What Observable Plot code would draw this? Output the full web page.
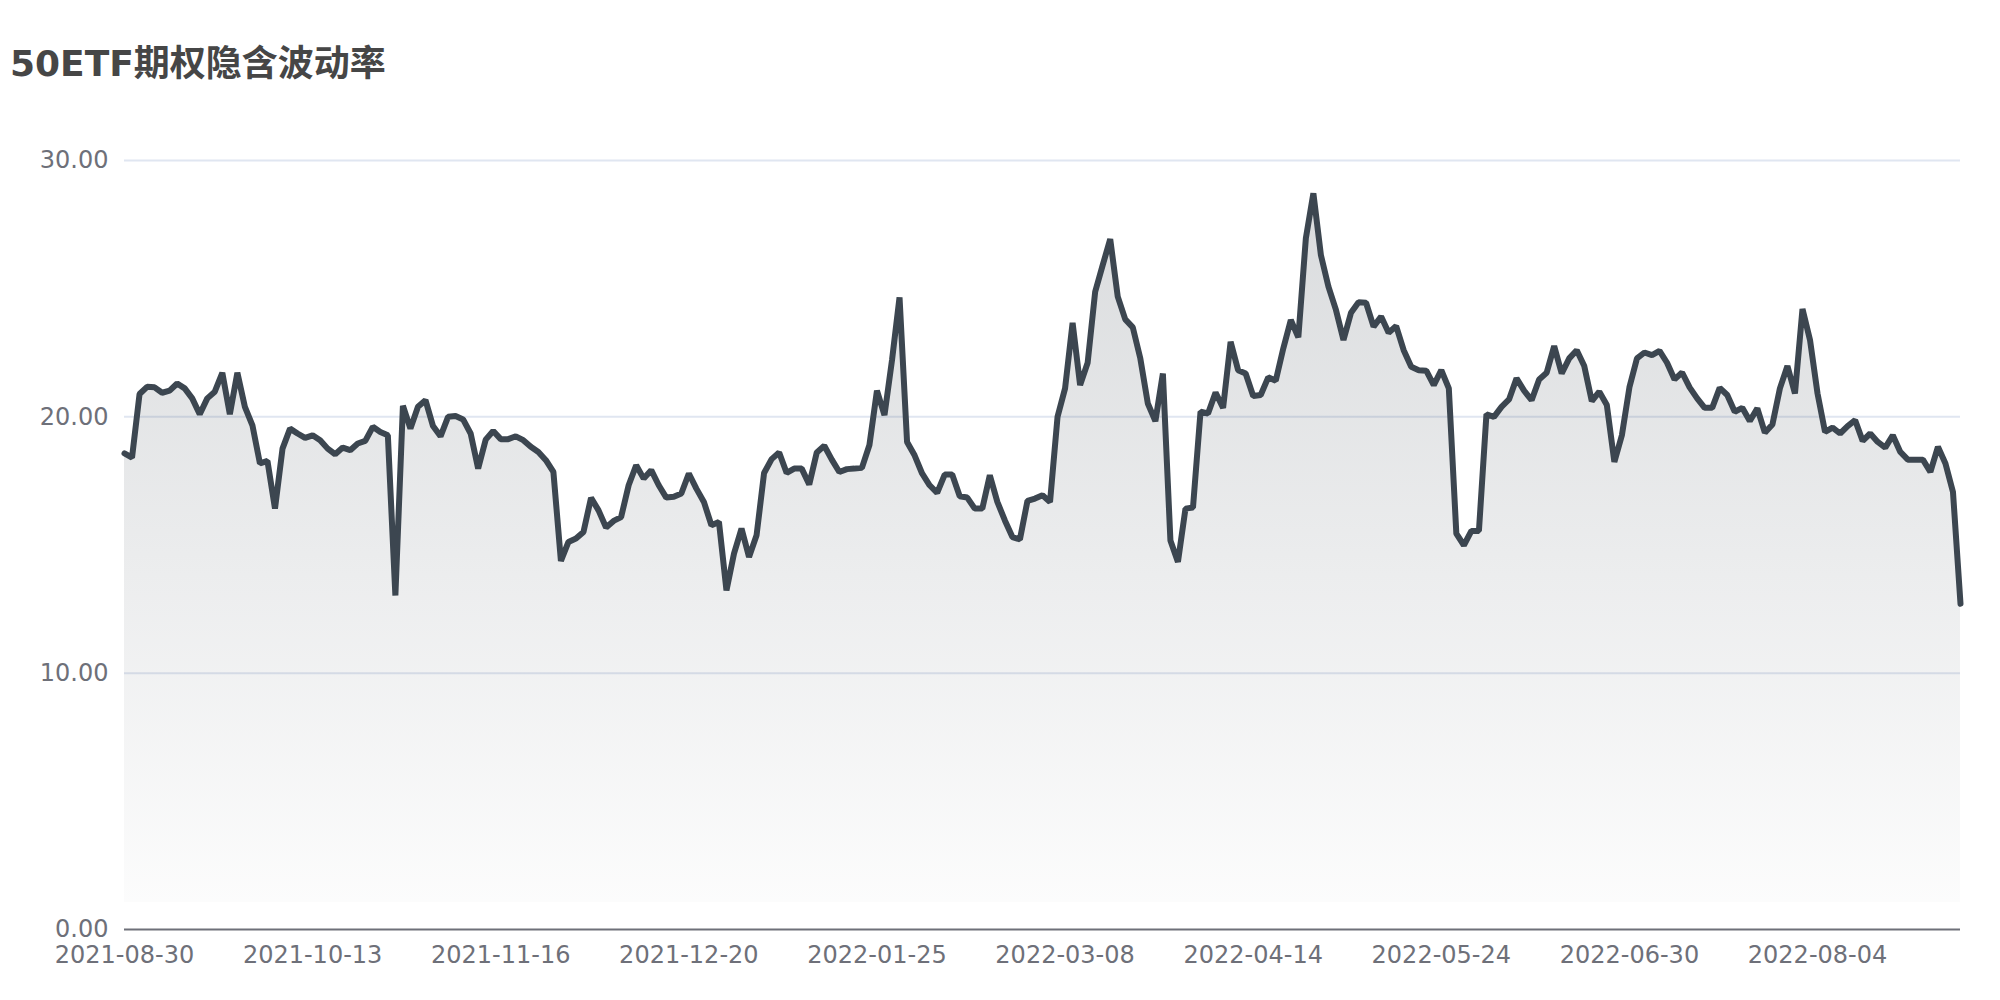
<!DOCTYPE html>
<html>
<head>
<meta charset="utf-8">
<script src="https://cdn.jsdelivr.net/npm/d3@7"></script>
<script src="https://cdn.jsdelivr.net/npm/@observablehq/plot@0.6"></script>
<style>
  html, body { margin: 0; padding: 0; background: #ffffff; }
  #title {
    height: 100px; box-sizing: border-box; padding: 42px 0 0 10px;
    font-family: "DejaVu Sans", "Noto Sans CJK SC", sans-serif;
    font-weight: bold; font-size: 36px; line-height: 44px; color: #464646;
    white-space: nowrap;
  }
</style>
</head>
<body>
<div id="title">50ETF期权隐含波动率</div>
<div id="chart"></div>
<script>
// Title
const chartTitle = "50ETF期权隐含波动率";

// X tick labels (every 25th trading day)
const xTickLabels = ["2021-08-30","2021-10-13","2021-11-16","2021-12-20","2022-01-25",
                     "2022-03-08","2022-04-14","2022-05-24","2022-06-30","2022-08-04"];
const xTickEvery = 25;

// Y ticks
const yTicks = [0, 10, 20, 30];

// Implied volatility series (one value per trading day, 2021-08-30 .. 2022-08-31)
const ivPart1 = [
  18.57, 18.41, 20.89, 21.17, 21.15, 20.94, 21.02, 21.30, 21.11, 20.72,
  20.10, 20.72, 20.98, 21.72, 20.10, 21.72, 20.39, 19.67, 18.18, 18.28,
  16.42, 18.76, 19.54, 19.35, 19.18, 19.28, 19.09, 18.76, 18.54, 18.80,
  18.70, 18.96, 19.06, 19.61, 19.41, 19.28, 13.03, 20.43, 19.54, 20.39,
  20.65, 19.64, 19.24, 20.00, 20.03, 19.90, 19.35, 17.98, 19.11, 19.45
];
const ivPart2 = [
  19.13, 19.13, 19.24, 19.09, 18.83, 18.63, 18.31, 17.85, 14.38, 15.12,
  15.25, 15.51, 16.84, 16.35, 15.68, 15.94, 16.09, 17.33, 18.11, 17.59,
  17.92, 17.33, 16.85, 16.88, 17.01, 17.79, 17.20, 16.68, 15.77, 15.90,
  13.23, 14.66, 15.64, 14.53, 15.38, 17.81, 18.35, 18.61, 17.81, 17.98,
  17.98, 17.36, 18.61, 18.87, 18.33, 17.85, 17.96, 17.98, 18.01, 18.90
];
const ivPart3 = [
  21.02, 20.07, 22.21, 24.66, 19.02, 18.50, 17.79, 17.33, 17.03, 17.75,
  17.75, 16.90, 16.85, 16.42, 16.42, 17.72, 16.68, 15.96, 15.31, 15.22,
  16.72, 16.81, 16.94, 16.68, 20.00, 21.11, 23.67, 21.24, 22.11, 24.88,
  25.92, 26.93, 24.69, 23.80, 23.49, 22.28, 20.52, 19.83, 21.69, 15.18,
  14.34, 16.42, 16.46, 20.20, 20.13, 20.95, 20.35, 22.93, 21.82
];
const ivPart4 = [
  21.69, 20.81, 20.85, 21.54, 21.41, 22.67, 23.78, 23.10, 26.97, 28.72,
  26.31, 25.08, 24.17, 23.00, 24.06, 24.47, 24.45, 23.52, 23.91, 23.28,
  23.54, 22.60, 21.95, 21.82, 21.80, 21.24, 21.82, 21.11, 15.44, 14.99,
  15.55, 15.55, 20.10, 20.00, 20.39, 20.68, 21.50, 21.02, 20.65, 21.46,
  21.72, 22.76, 21.69, 22.28, 22.60, 21.98, 20.61, 20.98, 20.46
];
const ivPart5 = [
  18.24, 19.28, 21.15, 22.28, 22.51, 22.41, 22.57, 22.11, 21.46, 21.73,
  21.15, 20.72, 20.35, 20.35, 21.13, 20.85, 20.20, 20.35, 19.84, 20.33,
  19.38, 19.70, 21.11, 21.98, 20.91, 24.21, 23.00, 20.91, 19.41, 19.58,
  19.35, 19.64, 19.87, 19.06, 19.35, 19.02, 18.80, 19.28, 18.63, 18.33,
  18.33, 18.33, 17.85, 18.83, 18.18, 17.07, 12.71
];

// Lower edge of the shaded area (value units)
const areaBase = 1.05;

const ivValues = [...ivPart1, ...ivPart2, ...ivPart3, ...ivPart4, ...ivPart5];
const data = ivValues.map((v, i) => ({i, v}));
const tickIdx = xTickLabels.map((_, k) => k * xTickEvery);

const gradientDefs = () => {
  const ns = "http://www.w3.org/2000/svg";
  const defs = document.createElementNS(ns, "defs");
  const lg = document.createElementNS(ns, "linearGradient");
  lg.setAttribute("id", "ivgrad");
  lg.setAttribute("x1", "0"); lg.setAttribute("y1", "0");
  lg.setAttribute("x2", "0"); lg.setAttribute("y2", "1");
  [[0, 0.19], [1, 0.016]].forEach(([o, a]) => {
    const s = document.createElementNS(ns, "stop");
    s.setAttribute("offset", o);
    s.setAttribute("stop-color", "#3a444e");
    s.setAttribute("stop-opacity", a);
    lg.appendChild(s);
  });
  defs.appendChild(lg);
  return defs;
};

const plot = Plot.plot({
  width: 2000,
  height: 900,
  marginTop: 60,
  marginBottom: 71,
  marginLeft: 124,
  marginRight: 40,
  style: {fontFamily: "'DejaVu Sans', 'Noto Sans CJK SC', sans-serif", fontSize: "24px", background: "#ffffff"},
  x: {type: "linear", domain: [0, ivValues.length - 1]},
  y: {domain: [0, 30]},
  marks: [
    gradientDefs,
    Plot.ruleY(yTicks.filter(d => d > 0), {stroke: "#E0E6F1", strokeWidth: 2}),
    Plot.areaY(data, {x: "i", y1: areaBase, y2: "v", fill: "url(#ivgrad)"}),
    Plot.lineY(data, {x: "i", y: "v", stroke: "#3c4650", strokeWidth: 6, strokeLinejoin: "bevel"}),
    Plot.ruleY([0], {stroke: "#6E7079", strokeWidth: 2}),
    Plot.axisY({ticks: yTicks, tickFormat: d3.format(".2f"), tickSize: 0, tickPadding: 16, label: null, color: "#6E7079"}),
    Plot.axisX({ticks: tickIdx, tickFormat: d => xTickLabels[d / xTickEvery], tickSize: 0, tickPadding: 16, label: null, color: "#6E7079"})
  ]
});
document.getElementById("chart").appendChild(plot);
</script>
</body>
</html>
